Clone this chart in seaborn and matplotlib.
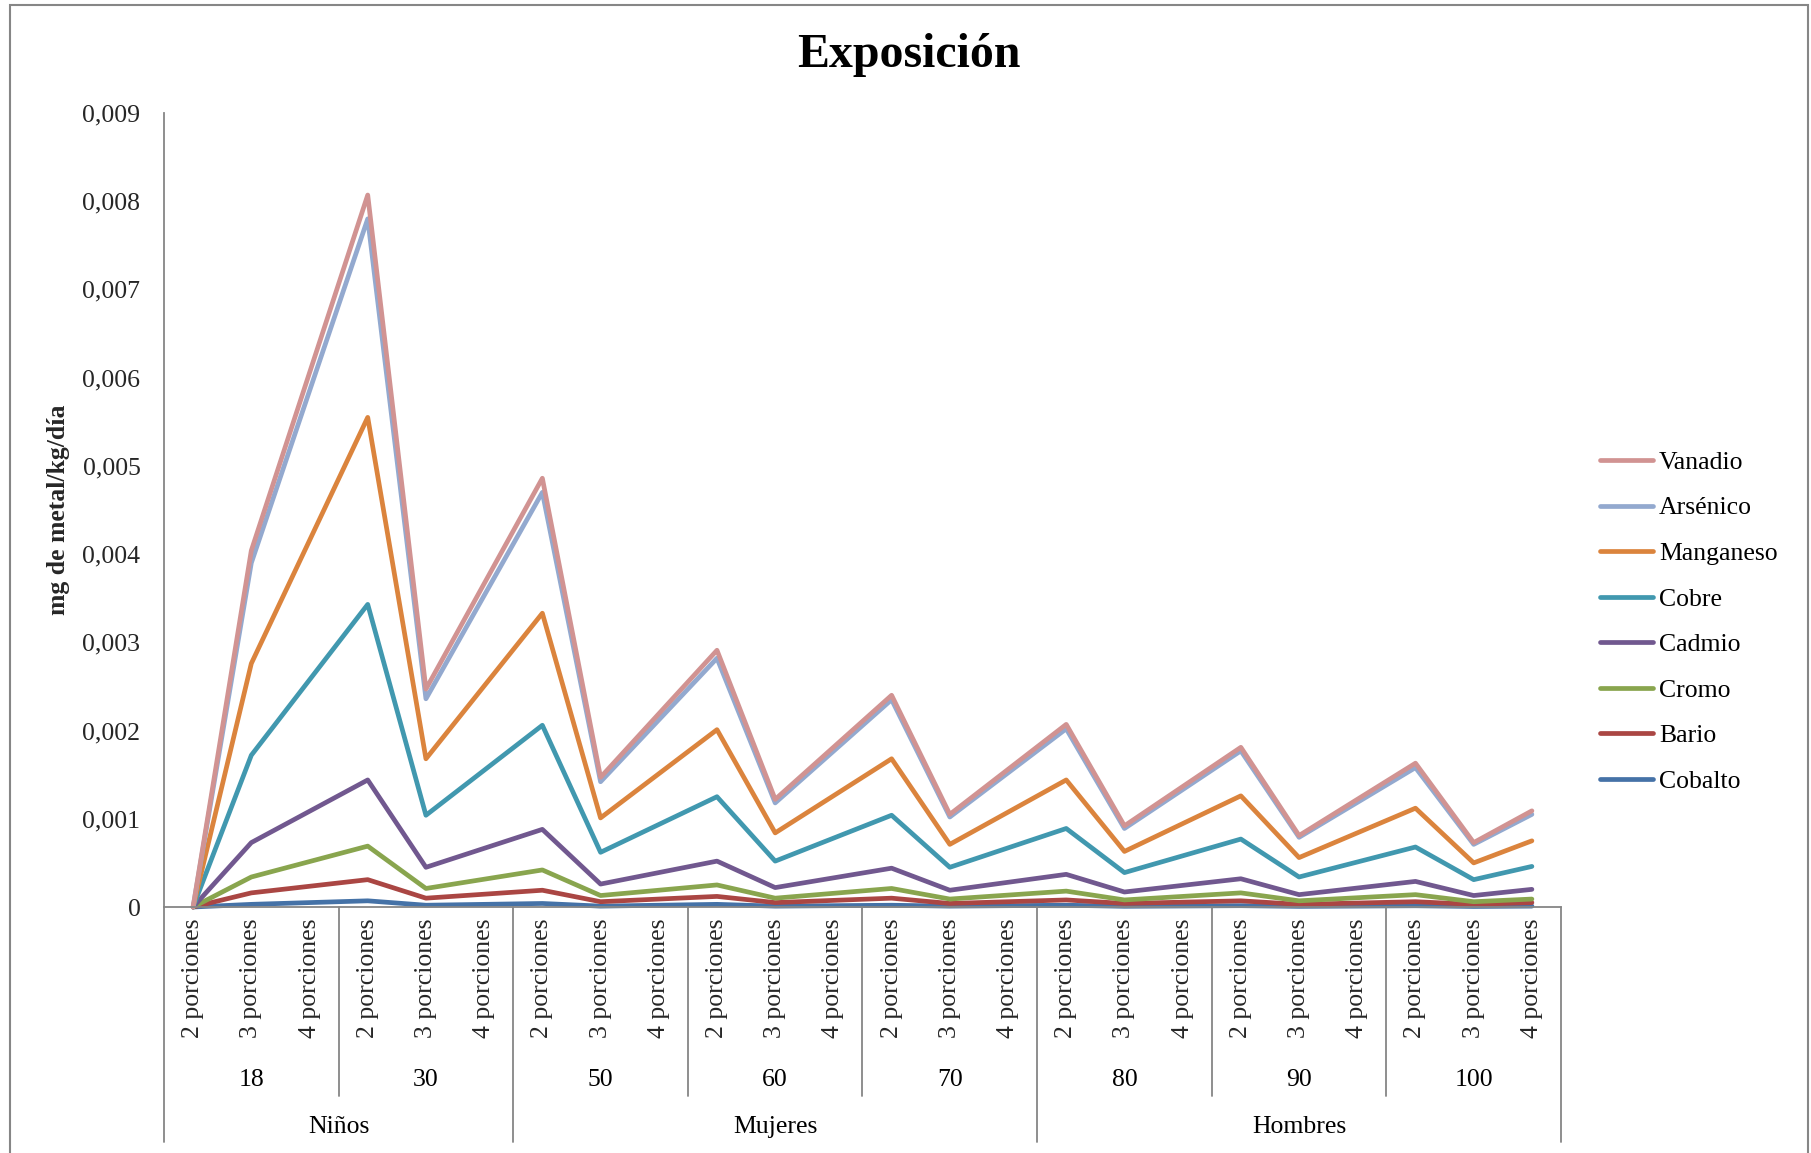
import numpy as np
import pandas as pd
import seaborn as sns
import matplotlib
matplotlib.use("Agg")
import matplotlib.pyplot as plt
from matplotlib.lines import Line2D
from matplotlib.patches import Rectangle
from matplotlib.ticker import FuncFormatter
from matplotlib.transforms import blended_transform_factory

nan = np.nan

# Category axis: three levels (population, body weight, portions)
porciones = ["2 porciones", "3 porciones", "4 porciones"]
pesos = ["18", "30", "50", "60", "70", "80", "90", "100"]
poblaciones = ["Niños", "Mujeres", "Hombres"]
pesos_por_poblacion = [2, 3, 3]

# Exposure (mg de metal/kg/día) per category
vanadio = [0, 0.00404, nan, 0.00807, 0.00247, nan, 0.00486, 0.00147, nan, 0.00291, 0.00122, nan,
           0.00240, 0.00105, nan, 0.00207, 0.00092, nan, 0.00181, 0.00081, nan, 0.00163, 0.00073, 0.00109]
arsenico = [0, 0.00390, nan, 0.00780, 0.00236, nan, 0.00470, 0.00142, nan, 0.00282, 0.00118, nan,
            0.00235, 0.00102, nan, 0.00202, 0.00089, nan, 0.00177, 0.00079, nan, 0.00158, 0.00071, 0.00105]
manganeso = [0, 0.00276, nan, 0.00555, 0.00168, nan, 0.00333, 0.00101, nan, 0.00201, 0.00084, nan,
             0.00168, 0.00071, nan, 0.00144, 0.00063, nan, 0.00126, 0.00056, nan, 0.00112, 0.00050, 0.00075]
cobre = [0, 0.00172, nan, 0.00343, 0.00104, nan, 0.00206, 0.00062, nan, 0.00125, 0.00052, nan,
         0.00104, 0.00045, nan, 0.00089, 0.00039, nan, 0.00077, 0.00034, nan, 0.00068, 0.00031, 0.00046]
cadmio = [0, 0.00073, nan, 0.00144, 0.00045, nan, 0.00088, 0.00026, nan, 0.00052, 0.00022, nan,
          0.00044, 0.00019, nan, 0.00037, 0.00017, nan, 0.00032, 0.00014, nan, 0.00029, 0.00013, 0.00020]
cromo = [0, 0.00034, nan, 0.00069, 0.00021, nan, 0.00042, 0.00013, nan, 0.00025, 0.00010, nan,
         0.00021, 0.00009, nan, 0.00018, 0.00008, nan, 0.00016, 0.00007, nan, 0.00014, 0.00006, 0.00009]
bario = [0, 0.00016, nan, 0.00031, 0.00010, nan, 0.00019, 0.00006, nan, 0.00012, 0.00005, nan,
         0.00010, 0.00004, nan, 0.00008, 0.00004, nan, 0.00007, 0.00003, nan, 0.00006, 0.00003, 0.00005]
cobalto = [0, 0.00003, nan, 0.00007, 0.00002, nan, 0.00004, 0.00001, nan, 0.00003, 0.00001, nan,
           0.00002, 0.00001, nan, 0.00002, 0.000008, nan, 0.000015, 0.000007, nan, 0.000014, 0.000006, 0.00001]

metales = ["Vanadio", "Arsénico", "Manganeso", "Cobre", "Cadmio", "Cromo", "Bario", "Cobalto"]
series = [vanadio, arsenico, manganeso, cobre, cadmio, cromo, bario, cobalto]
colores = ["#D19392", "#93A9CF", "#DB843D", "#4198AF", "#71588F", "#89A54E", "#AA4643", "#4572A7"]

sns.set_style("white")
plt.rcParams["font.family"] = ["Liberation Serif", "DejaVu Serif"]
plt.rcParams["text.color"] = "black"

W, H, DPI = 1811, 1153, 100
fig = plt.figure(figsize=(W / DPI, H / DPI), dpi=DPI)
ax = fig.add_axes([164 / W, 1 - 907 / H, (1561 - 164) / W, (907 - 113) / H])

n_cat = len(pesos) * len(porciones)
rows = []
for nombre, vals in zip(metales, series):
    for i, v in enumerate(vals):
        rows.append({"pos": i, "valor": v, "metal": nombre})
df = pd.DataFrame(rows).dropna()

palette = dict(zip(metales, colores))
orden_dibujo = metales[::-1]
LW = 3.4
sns.lineplot(data=df, x="pos", y="valor", hue="metal", hue_order=orden_dibujo,
             palette=palette, linewidth=LW, legend=False, sort=True,
             estimator=None, ax=ax)
for ln in ax.get_lines():
    ln.set_solid_joinstyle("round")
    ln.set_solid_capstyle("round")
    ln.set_clip_on(False)

ax.set_xlim(-0.5, n_cat - 0.5)
ax.set_ylim(0, 0.009)
ax.set_yticks(np.arange(0, 0.0091, 0.001))
ax.yaxis.set_major_formatter(FuncFormatter(
    lambda v, p: "0" if abs(v) < 1e-12 else f"{v:.3f}".replace(".", ",")))
ax.tick_params(axis="y", length=0, pad=17, labelsize=18.5)

labels_x = porciones * len(pesos)
ax.set_xticks(range(n_cat))
ax.set_xticklabels(labels_x, rotation=90, fontsize=18.5)
ax.tick_params(axis="x", length=0, pad=8)
ax.set_xlabel("")

AX_COLOR = "#868686"
for s in ["top", "right"]:
    ax.spines[s].set_visible(False)
for s in ["left", "bottom"]:
    ax.spines[s].set_color(AX_COLOR)
    ax.spines[s].set_linewidth(1.3)

ax.set_ylabel("mg de metal/kg/día", fontsize=18.5, fontweight="bold")
ax.yaxis.set_label_coords((70 - 164) / (1561 - 164), 0.5)

# Multi-level category labels and dividers
tr = blended_transform_factory(ax.transData, fig.transFigure)
y_axis = 1 - 907 / H
y_peso_txt = 1 - 1080 / H
y_pob_txt = 1 - 1127 / H
y_div_peso = 1 - 1096 / H
y_div_pob = 1 - 1142 / H

for g, p in enumerate(pesos):
    ax.text(3 * g + 1, y_peso_txt, p, transform=tr, ha="center", va="center", fontsize=18.5)

limites_pob = np.cumsum([0] + pesos_por_poblacion) * 3
for k, nombre in enumerate(poblaciones):
    centro = (limites_pob[k] + limites_pob[k + 1]) / 2 - 0.5
    ax.text(centro, y_pob_txt, nombre, transform=tr, ha="center", va="center", fontsize=18.5)

for g in range(len(pesos) + 1):
    xb = 3 * g - 0.5
    y_end = y_div_pob if 3 * g in limites_pob else y_div_peso
    ax.add_line(Line2D([xb, xb], [y_axis, y_end], transform=tr, color=AX_COLOR,
                       lw=1.3, clip_on=False))

fig.text(909 / W, 1 - 55 / H, "Exposición", ha="center", va="center",
         fontsize=34.5, fontweight="bold")

handles = [Line2D([0], [0], color=c, lw=LW, solid_capstyle="round") for c in colores]
fig.legend(handles, metales, loc="center left", bbox_to_anchor=(1600 / W, 1 - 622 / H),
           frameon=False, fontsize=18.5, handlelength=2.05, handletextpad=0.25,
           labelspacing=0.88, borderpad=0, borderaxespad=0)

# Chart frame
fig.add_artist(Rectangle((10 / W, -0.05), (1808 - 10) / W, 1.05 - 5 / H,
                         transform=fig.transFigure, fill=False, edgecolor=AX_COLOR,
                         lw=1.5, clip_on=False))

fig.savefig("out.png", dpi=DPI, facecolor="white")
